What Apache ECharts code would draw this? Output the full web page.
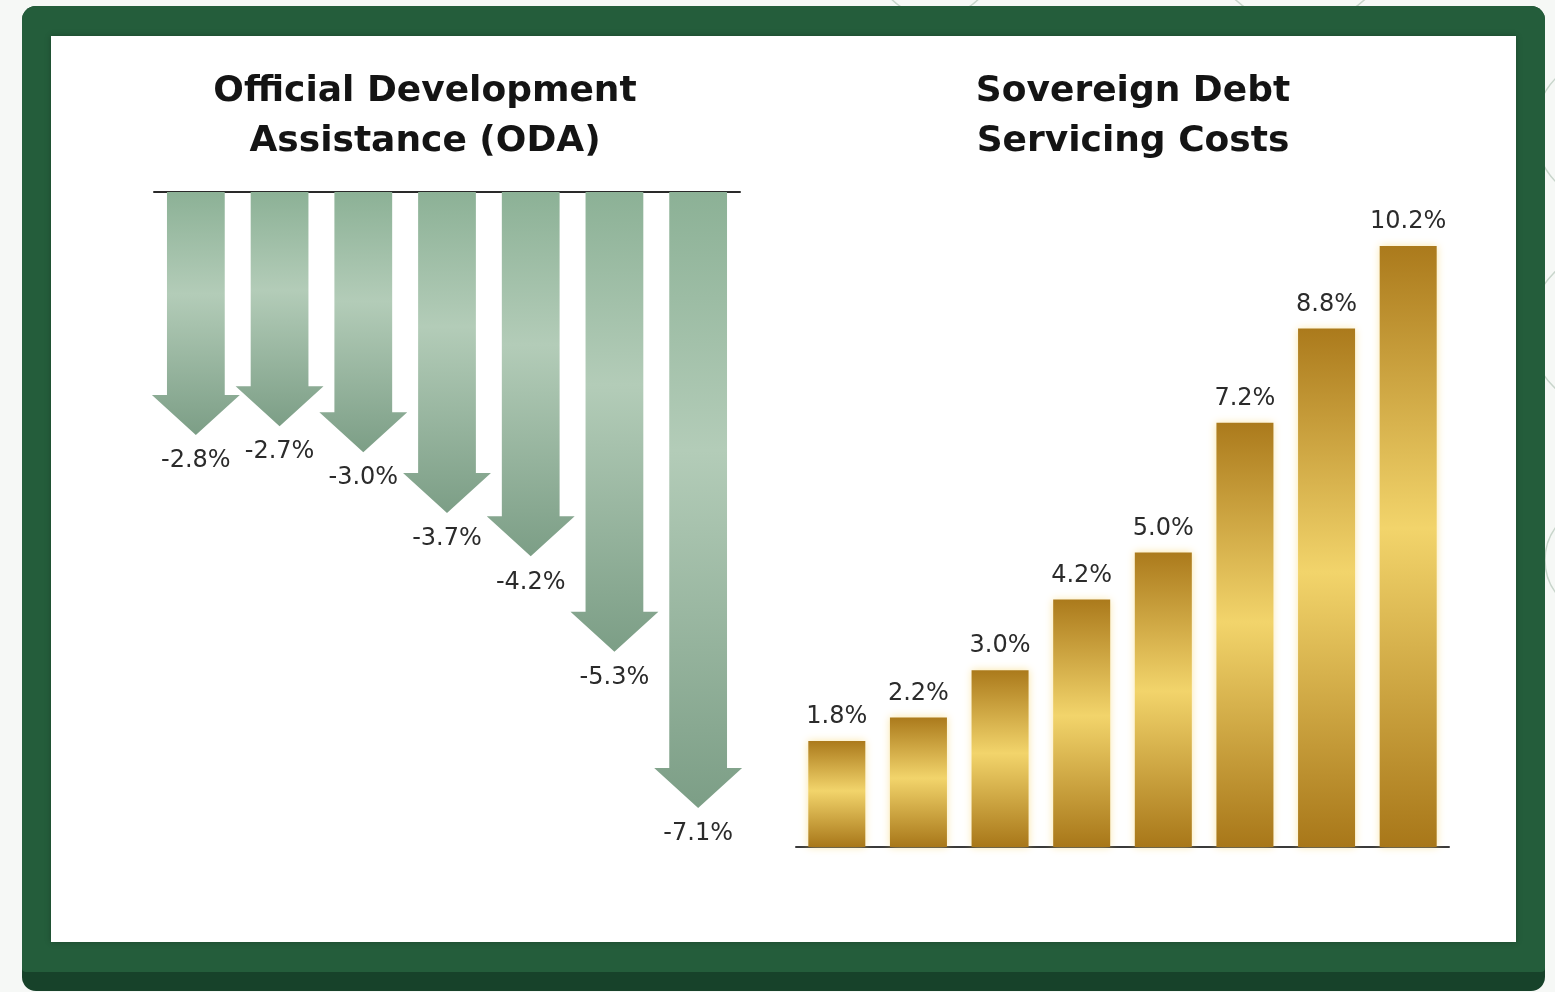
<!DOCTYPE html>
<html>
<head>
<meta charset="utf-8">
<title>ODA vs Sovereign Debt Servicing Costs</title>
<script src="https://cdn.jsdelivr.net/npm/echarts@6/dist/echarts.min.js"></script>
<style>
  html, body { margin: 0; padding: 0; background: #f6f8f6; }
  #chart { width: 1555px; height: 992px; }
</style>
</head>
<body>
<div id="chart"></div>
<script>
// ODA change per period (%), drawn as down arrows
const odaCategories = ['P1', 'P2', 'P3', 'P4', 'P5', 'P6', 'P7'];
const odaValues = [-2.8, -2.7, -3.0, -3.7, -4.2, -5.3, -7.1];

// sovereign debt servicing costs (%)
const debtCategories = ['P1', 'P2', 'P3', 'P4', 'P5', 'P6', 'P7', 'P8'];
const debtValues = [1.8, 2.2, 3.0, 4.2, 5.0, 7.2, 8.8, 10.2];

const titleLeft = 'Official Development\nAssistance (ODA)';
const titleRight = 'Sovereign Debt\nServicing Costs';

const chart = echarts.init(document.getElementById('chart'));
const { LinearGradient } = echarts.graphic;

const arrowFill = () =>
  new LinearGradient(0, 0, 0, 1, [
    { offset: 0, color: '#8cb196' },
    { offset: 0.42, color: '#b3ccb8' },
    { offset: 1, color: '#7c9e86' }
  ]);

const goldFill = new LinearGradient(0, 0, 0, 1, [
  { offset: 0, color: '#ab7a1c' },
  { offset: 0.47, color: '#f2d46b' },
  { offset: 1, color: '#a87719' }
]);

const labelFont = '24px "DejaVu Sans"';

const renderArrow = (params, api) => {
  const i = api.value(0);
  const v = api.value(1);
  const base = api.coord([i, 0]);
  const tip = api.coord([i, v]);
  const band = api.size([1, 0])[0];
  const shaft = band * 0.69 / 2;
  const head = band * 1.05 / 2;
  const headH = 40;
  const cx = base[0];
  const neck = tip[1] - headH;
  return {
    type: 'group',
    children: [
      {
        type: 'polygon',
        shape: {
          points: [
            [cx - shaft, base[1]],
            [cx + shaft, base[1]],
            [cx + shaft, neck],
            [cx + head, neck],
            [cx, tip[1]],
            [cx - head, neck],
            [cx - shaft, neck]
          ]
        },
        style: { fill: arrowFill() }
      },
      {
        type: 'text',
        x: cx,
        y: tip[1] + 14,
        style: {
          text: v.toFixed(1) + '%',
          fill: '#2b2b2b',
          font: labelFont,
          align: 'center',
          verticalAlign: 'top'
        }
      }
    ]
  };
};

const option = {
  animation: false,
  backgroundColor: '#f6f8f6',
  graphic: [
    // faint decorative rings behind the frame
    { type: 'circle', z: -20, shape: { cx: 935, cy: -45, r: 62 }, style: { fill: 'none', stroke: '#c8d5cb', lineWidth: 1.5 } },
    { type: 'circle', z: -20, shape: { cx: 1300, cy: -70, r: 95 }, style: { fill: 'none', stroke: '#c8d5cb', lineWidth: 1.5 } },
    { type: 'circle', z: -20, shape: { cx: 1610, cy: 130, r: 75 }, style: { fill: 'none', stroke: '#c8d5cb', lineWidth: 1.5 } },
    { type: 'circle', z: -20, shape: { cx: 1610, cy: 330, r: 80 }, style: { fill: 'none', stroke: '#c8d5cb', lineWidth: 1.5 } },
    { type: 'circle', z: -20, shape: { cx: 1600, cy: 560, r: 55 }, style: { fill: 'none', stroke: '#c8d5cb', lineWidth: 1.5 } },
    // frame
    { type: 'rect', z: -10, shape: { x: 22, y: 6, width: 1523, height: 985, r: 14 }, style: { fill: '#17422a' } },
    { type: 'rect', z: -9, shape: { x: 22, y: 6, width: 1523, height: 966, r: [14, 14, 4, 4] }, style: { fill: '#245d3b' } },
    {
      type: 'rect', z: -8,
      shape: { x: 51, y: 36, width: 1465, height: 906 },
      style: { fill: '#ffffff', shadowBlur: 6, shadowColor: 'rgba(0,0,0,0.25)' }
    },
    {
      type: 'text', z: 5, x: 425, y: 67,
      style: { text: titleLeft, font: 'bold 36px "DejaVu Sans"', fill: '#141414', align: 'center', lineHeight: 50 }
    },
    {
      type: 'text', z: 5, x: 1133, y: 67,
      style: { text: titleRight, font: 'bold 36px "DejaVu Sans"', fill: '#141414', align: 'center', lineHeight: 50 }
    }
  ],
  grid: [
    { left: 154, width: 586, top: 192, height: 694 },
    { left: 796, width: 653, bottom: 145, height: 707 }
  ],
  xAxis: [
    {
      gridIndex: 0,
      type: 'category',
      position: 'top',
      data: odaCategories,
      axisLine: { lineStyle: { color: '#2a2a2a', width: 2 } },
      axisTick: { show: false },
      axisLabel: { show: false }
    },
    {
      gridIndex: 1,
      type: 'category',
      data: debtCategories,
      axisLine: { lineStyle: { color: '#3a3a3a', width: 2 } },
      axisTick: { show: false },
      axisLabel: { show: false }
    }
  ],
  yAxis: [
    { gridIndex: 0, type: 'value', min: -8, max: 0, show: false, splitLine: { show: false } },
    { gridIndex: 1, type: 'value', min: 0, max: 12, show: false, splitLine: { show: false } }
  ],
  series: [
    {
      type: 'custom',
      xAxisIndex: 0,
      yAxisIndex: 0,
      renderItem: renderArrow,
      encode: { x: 0, y: 1 },
      data: odaValues.map((v, i) => [i, v])
    },
    {
      type: 'bar',
      xAxisIndex: 1,
      yAxisIndex: 1,
      barWidth: 57,
      data: debtValues,
      itemStyle: {
        color: goldFill,
        shadowBlur: 8,
        shadowColor: 'rgba(248, 214, 110, 0.6)'
      },
      label: {
        show: true,
        position: 'top',
        distance: 12,
        formatter: p => p.value.toFixed(1) + '%',
        fontFamily: 'DejaVu Sans',
        fontSize: 24,
        color: '#2b2b2b'
      }
    }
  ]
};

chart.setOption(option);
</script>
</body>
</html>
